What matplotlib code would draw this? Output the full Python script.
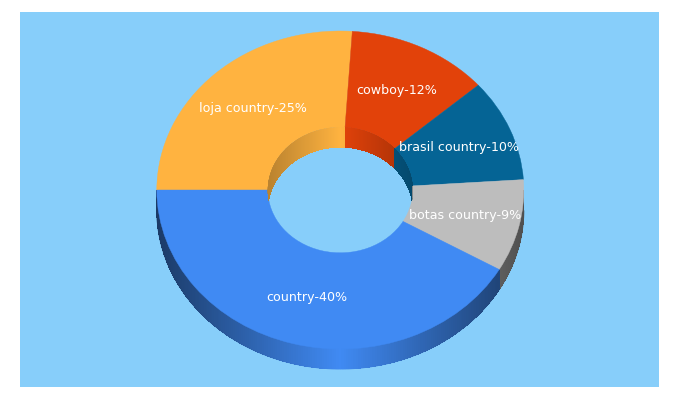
import numpy as np
import matplotlib
matplotlib.use('Agg')
import matplotlib.pyplot as plt
from matplotlib.collections import LineCollection, PolyCollection
from matplotlib.colors import to_rgb
from matplotlib.patches import Ellipse

# Data, in drawing order (clockwise from the left edge)
categories = ['loja country', 'cowboy', 'brasil country', 'botas country', 'country']
percents = [25, 12, 10, 9, 40]
colors = ['#FFB340', '#E2420A', '#056495', '#BDBDBD', '#408AF3']

BG = '#87CEFA'
HOLE = 0.395
LABEL_R = 0.7
# pixel layout of the donut
CX, CY, RX, RY, DEPTH = 340.3, 190, 183.5, 159, 20


def wall(ax, th_deg, r, color, shade, clip=None, zorder=0.5):
    """Side wall of the donut as thin vertical quads, shaded by x position."""
    th = np.radians(th_deg)
    if len(th) < 2:
        return
    x = r * np.cos(th)
    y = r * np.sin(th)
    d = DEPTH / RY
    quads, cols, edge = [], [], []
    base = np.array(to_rgb(color))
    for i in range(len(th) - 1):
        quads.append([(x[i], y[i]), (x[i + 1], y[i + 1]),
                      (x[i + 1], y[i + 1] - d), (x[i], y[i] - d)])
        edge.append([(x[i], y[i] - d), (x[i + 1], y[i + 1] - d)])
        mid = abs(np.cos((th[i] + th[i + 1]) / 2))
        cols.append(base * (1 - shade * mid))
    coll = PolyCollection(quads, facecolors=cols, edgecolors='none', antialiased=False, zorder=zorder)
    ax.add_collection(coll)
    if clip is not None:
        coll.set_clip_path(clip)
    else:
        # smooth the lower rim, the quads above are not antialiased
        ax.add_collection(LineCollection(edge, colors=cols, linewidths=0.7, zorder=zorder))


fig = plt.figure(figsize=(6.8, 4), dpi=100, facecolor='white')
ax = fig.add_axes([20 / 680, 13 / 400, 639 / 680, 375 / 400])

wedges, _ = ax.pie(percents, colors=colors, startangle=180, counterclock=False, radius=1,
                   wedgeprops={'width': 1 - HOLE, 'linewidth': 0.3})
for w in wedges:
    w.set_edgecolor(w.get_facecolor())
    w.set_zorder(1)

ax.set_aspect('auto')
ax.set_xlim((20 - CX) / RX, (659 - CX) / RX)
ax.set_ylim((CY - 387) / RY, (CY - 12) / RY)
ax.set_frame_on(True)
ax.set_facecolor(BG)
for s in ax.spines.values():
    s.set_visible(False)

hole_clip = Ellipse((0, 0), 2 * HOLE, 2 * HOLE, transform=ax.transData)
total = sum(percents)
start = 180.0
for name, pct, col in zip(categories, percents, colors):
    stop = start - pct / total * 360
    grid = np.linspace(stop, start, 200)
    low = grid[np.sin(np.radians(grid)) <= 1e-9]
    high = grid[np.sin(np.radians(grid)) >= -1e-9]
    wall(ax, low, 1.0, col, 0.58)
    wall(ax, high, HOLE, col, 0.27, clip=hole_clip, zorder=2)
    mid = np.radians((start + stop) / 2)
    ax.text(LABEL_R * np.cos(mid), LABEL_R * np.sin(mid), f'{name}-{pct}%', color='white',
            fontsize=9.1, ha='center', va='center', zorder=3)
    start = stop

fig.savefig('out.png', dpi=100)
